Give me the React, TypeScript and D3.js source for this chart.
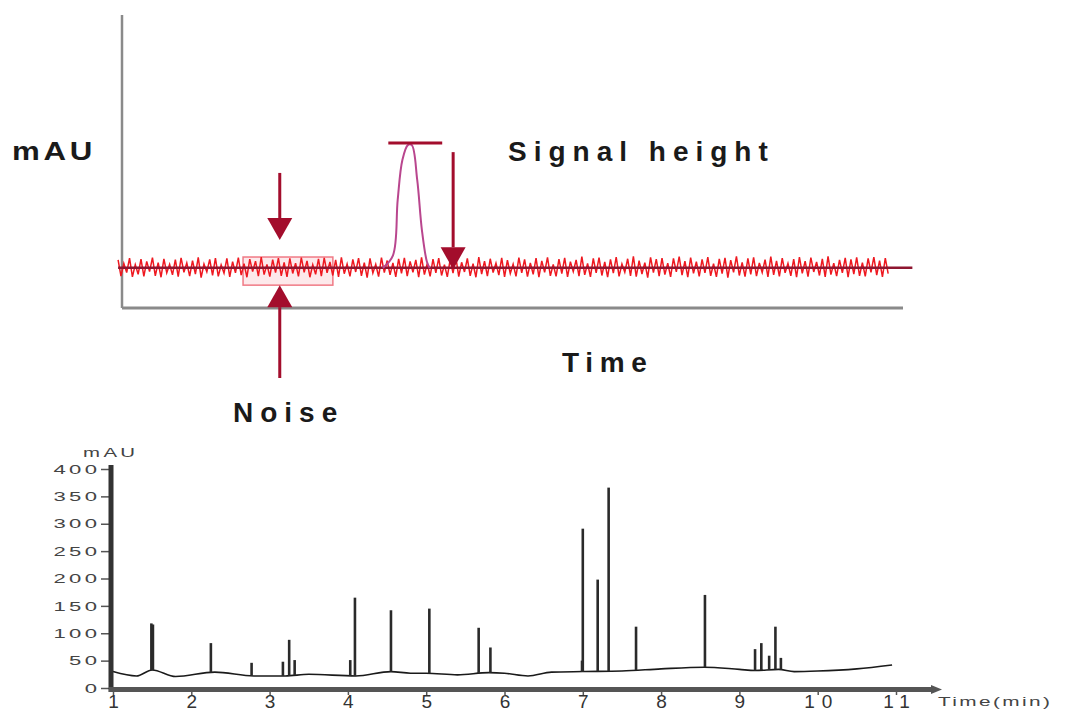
import React, { useRef, useEffect } from 'react';
import * as d3 from 'd3';

// top schematic: noise trace (arbitrary units)
const noiseLevels = [
  16.4, 10.9, 15.2, 12.1, 17.0, 10.6, 14.8, 11.5, 16.7, 10.8, 15.9, 12.4, 17.2, 11.0, 15.5, 10.5, 16.8, 12.0, 14.9, 11.3,
  16.5, 10.7, 17.1, 12.2, 15.4, 10.9, 16.2, 11.6, 17.3, 10.4, 15.0, 12.3, 16.6, 11.1, 17.0, 10.8, 14.7, 11.9, 16.9, 10.6,
  15.8, 12.0, 17.2, 11.2, 15.1, 10.5, 16.7, 12.4, 16.0, 10.9, 17.4, 11.4, 14.9, 10.7, 16.5, 12.1, 17.0, 11.0, 15.6, 10.6,
  16.9, 11.8, 15.3, 10.8, 17.2, 12.2, 16.1, 10.5, 14.8, 11.5, 16.8, 10.9, 17.1, 12.0, 15.7, 11.1, 16.4, 10.6, 17.3, 11.7,
  15.0, 10.8, 16.6, 12.3, 17.0, 11.0, 15.5, 10.4, 16.9, 11.9, 14.9, 10.7, 17.2, 12.1, 16.2, 11.3, 15.4, 10.6, 16.8, 11.8,
  17.1, 10.9, 15.9, 12.2, 16.4, 10.5, 17.3, 11.4, 15.2, 10.8, 16.7, 12.0, 17.0, 11.1, 14.8, 10.6, 16.5, 11.9, 17.2, 10.7,
  15.6, 12.3, 16.9, 11.0, 15.1, 10.5, 17.4, 11.6, 16.0, 10.9, 16.8, 12.1, 15.3, 11.2, 17.1, 10.6, 16.3, 11.8, 15.0, 10.8,
  17.2, 12.0, 16.6, 10.7, 15.4, 11.5, 17.0, 10.5, 16.1, 12.2, 17.3, 11.0, 14.9, 10.8, 16.7, 11.7, 17.1, 10.6, 15.8, 12.4,
  16.4, 10.9, 17.5, 11.3, 15.2, 10.6, 16.9, 12.0, 17.2, 11.1, 15.7, 10.5, 16.6, 11.9, 17.4, 10.8, 15.0, 12.2, 16.8, 11.0,
  17.6, 10.7, 16.2, 11.6, 15.5, 10.4, 17.3, 12.1, 16.7, 10.9, 17.0, 11.4, 15.3, 10.6, 16.9, 12.3, 17.5, 11.2, 16.0, 10.5,
  17.2, 11.8, 15.8, 10.8, 16.6, 12.0, 17.4, 11.0, 15.1, 10.6, 16.8, 11.7, 17.1, 10.4, 16.3, 12.2, 17.6, 11.1, 15.6, 10.7,
  16.9, 11.5, 17.3, 10.9, 15.4, 12.1, 16.5, 10.6, 17.5, 11.3, 16.1, 10.8, 17.0, 12.0, 15.2, 11.0, 16.7, 10.5, 17.4, 11.8,
  16.0, 10.7, 17.2, 12.3, 15.7, 11.1, 16.8, 10.6, 17.6, 11.4, 15.3, 10.9, 16.4, 12.0, 17.1, 10.5, 16.6, 11.6, 17.3, 11.0,
  15.5, 10.8, 16.9, 12.2, 17.4, 11.2, 16.2, 10.6, 17.0, 11.7,
];
const noiseBaseline = 13.7;
const signalPeakTimes = [33.4, 34.7, 35.3, 35.9, 36.6, 37.1, 37.8, 38.4, 39.05, 39.4];
const signalPeakValues = [13.7, 18.0, 36.9, 50.5, 55.6, 55.6, 43.7, 26.6, 15.7, 13.7];

// bottom chromatogram
const baseTimes = [1.0, 1.3, 1.5, 1.8, 2.3, 2.8, 3.2, 3.5, 4.1, 4.55, 4.8, 5.0, 5.4, 5.8, 6.0, 6.3, 6.6, 7.0, 7.5, 8.0, 8.55, 9.0, 9.2, 9.5, 9.7, 10.0, 10.5, 10.95];
const baseValues = [30, 22, 33, 21, 29, 22, 22, 25, 22, 30, 27, 27, 24, 28, 27, 22, 29, 30, 31, 35, 38, 34, 32, 34, 30, 31, 35, 42];
const peakTimes = [1.49, 1.51, 2.25, 2.77, 3.17, 3.25, 3.32, 4.03, 4.09, 4.55, 5.04, 5.67, 5.82, 6.99, 7.0, 7.19, 7.33, 7.68, 8.56, 9.2, 9.28, 9.38, 9.46, 9.53];
const peakHeights = [118, 116, 82, 46, 48, 88, 51, 51, 165, 142, 145, 110, 74, 50, 291, 198, 366, 112, 170, 71, 82, 59, 112, 55];
const yTicks = [0, 50, 100, 150, 200, 250, 300, 350, 400];
const xTicks = [1, 2, 3, 4, 5, 6, 7, 8, 9, 10, 11];

const FONT = '"Liberation Sans", Arial, sans-serif';
const ARROW = '#a30d2c';
const STRETCH = 1.7; // the small labels are drawn wide in the original

function App() {
  const ref = useRef<SVGSVGElement>(null);

  useEffect(() => {
    const svg = d3.select(ref.current);
    svg.selectAll('*').remove();

    // ---------- top schematic ----------
    const xTop = d3.scaleLinear().domain([0, 100]).range([122, 903]);
    const yTop = d3.scaleLinear().domain([0, 100]).range([308, 15]);
    const top = svg.append('g');

    top.append('line')
      .attr('x1', xTop(0)).attr('x2', xTop(0))
      .attr('y1', yTop(100)).attr('y2', yTop(0))
      .attr('stroke', '#8a8a8a').attr('stroke-width', 2.5);
    top.append('line')
      .attr('x1', xTop(0)).attr('x2', xTop(100))
      .attr('y1', yTop(0)).attr('y2', yTop(0))
      .attr('stroke', '#8a8a8a').attr('stroke-width', 3);

    const step = 98.6 / (noiseLevels.length - 1);
    const noisePts: [number, number][] = noiseLevels.map((v, i) => [-0.5 + i * step, v]);
    const line = d3.line<[number, number]>().x(d => xTop(d[0])).y(d => yTop(d[1]));

    // noise box
    top.append('rect')
      .attr('x', xTop(15.5)).attr('y', yTop(17.4))
      .attr('width', xTop(27) - xTop(15.5)).attr('height', yTop(7.8) - yTop(17.4))
      .attr('fill', '#fbd3d8').attr('fill-opacity', 0.5)
      .attr('stroke', '#f07a85').attr('stroke-width', 1.5);

    top.append('path').datum(noisePts)
      .attr('d', line)
      .attr('fill', 'none').attr('stroke', '#ee1820').attr('stroke-width', 1.5);

    top.append('line')
      .attr('x1', xTop(-0.5)).attr('x2', xTop(101.2))
      .attr('y1', yTop(noiseBaseline)).attr('y2', yTop(noiseBaseline))
      .attr('stroke', '#8e1630').attr('stroke-width', 2.5);

    const peakPts: [number, number][] = signalPeakTimes.map((t, i) => [t, signalPeakValues[i]]);
    top.append('path').datum(peakPts)
      .attr('d', d3.line<[number, number]>().x(d => xTop(d[0])).y(d => yTop(d[1])).curve(d3.curveCatmullRom))
      .attr('fill', 'none').attr('stroke', '#b9468e').attr('stroke-width', 2);

    // signal height bar
    top.append('line')
      .attr('x1', xTop(34.1)).attr('x2', xTop(41))
      .attr('y1', yTop(56.3)).attr('y2', yTop(56.3))
      .attr('stroke', ARROW).attr('stroke-width', 3);

    const arrow = (x: number, yFrom: number, yTip: number) => {
      const px = xTop(x), p0 = yTop(yFrom), p1 = yTop(yTip);
      const dir = p1 > p0 ? 1 : -1;
      const headLen = 22, headW = 12.5;
      top.append('line')
        .attr('x1', px).attr('x2', px)
        .attr('y1', p0).attr('y2', p1 - dir * headLen)
        .attr('stroke', ARROW).attr('stroke-width', 3);
      top.append('path')
        .attr('d', `M${px - headW},${p1 - dir * headLen} L${px + headW},${p1 - dir * headLen} L${px},${p1} Z`)
        .attr('fill', ARROW);
    };
    arrow(42.4, 53.2, 13.2);
    arrow(20.2, 46.1, 23.2);
    arrow(20.2, -23.9, 7.8);

    const bigText = (txt: string, x: number, y: number, size: number, sp: number, sx = 1) =>
      svg.append('text')
        .attr('transform', `translate(${x},${y}) scale(${sx},1)`)
        .attr('font-family', FONT).attr('font-weight', 'bold')
        .attr('font-size', size).attr('letter-spacing', sp)
        .attr('fill', '#1a1a1a').text(txt);
    bigText('mAU', 12, 160, 25, 3, 1.25);
    bigText('Signal height', 508, 161, 28, 7);
    bigText('Time', 562, 372, 28, 6.7);
    bigText('Noise', 233, 422, 28, 7);

    // ---------- bottom chromatogram ----------
    const xB = d3.scaleLinear().domain([1, 11]).range([113, 896]);
    const yB = d3.scaleLinear().domain([0, 400]).range([688, 469]);
    const baseAt = d3.scaleLinear().domain(baseTimes).range(baseValues);
    const bot = svg.append('g');

    const basePts: [number, number][] = baseTimes.map((t, i) => [t, baseValues[i]]);
    bot.append('path').datum(basePts)
      .attr('d', d3.line<[number, number]>().x(d => xB(d[0])).y(d => yB(d[1])).curve(d3.curveMonotoneX))
      .attr('fill', 'none').attr('stroke', '#1a1a1a').attr('stroke-width', 1.6);

    bot.selectAll('.peak')
      .data(peakTimes.map((t, i) => ({ t, h: peakHeights[i] })))
      .enter()
      .append('line')
      .attr('class', 'peak')
      .attr('x1', d => xB(d.t)).attr('x2', d => xB(d.t))
      .attr('y1', d => yB(baseAt(d.t))).attr('y2', d => yB(d.h))
      .attr('stroke', '#2a2a2a').attr('stroke-width', 2.6);

    // y axis
    const yAxis = bot.append('g')
      .attr('transform', `translate(${xB(1) - 2},0)`)
      .call(d3.axisLeft(yB).tickValues(yTicks).tickSize(10).tickFormat(d3.format('d')));
    yAxis.select('.domain').remove();
    yAxis.selectAll('line').attr('stroke', '#555').attr('stroke-width', 1.5);
    yAxis.selectAll('text')
      .attr('x', -6.2)
      .attr('transform', `scale(${STRETCH},1)`)
      .attr('font-family', FONT).attr('font-size', 13)
      .attr('letter-spacing', 2).attr('fill', '#444');
    bot.append('rect')
      .attr('x', xB(1) - 4.5).attr('y', yB(400) - 4)
      .attr('width', 5).attr('height', yB(0) - yB(400) + 8)
      .attr('fill', '#333');

    // x axis
    const xAxis = bot.append('g')
      .attr('transform', `translate(0,${yB(0) + 2})`)
      .call(d3.axisBottom(xB).tickValues(xTicks).tickSize(5).tickFormat(d3.format('d')));
    xAxis.select('.domain').remove();
    xAxis.selectAll('line').attr('stroke', '#555').attr('stroke-width', 1.5);
    xAxis.selectAll('text')
      .attr('y', 18).attr('dy', 0).attr('x', 3.5)
      .attr('font-family', FONT).attr('font-size', 19)
      .attr('letter-spacing', 7).attr('fill', '#333');
    bot.append('rect')
      .attr('x', xB(1) - 4).attr('y', yB(0) - 1)
      .attr('width', 935 - xB(1)).attr('height', 5)
      .attr('fill', '#555');
    bot.append('path')
      .attr('d', `M931,${yB(0) - 3} L942,${yB(0) + 1.5} L931,${yB(0) + 6} Z`)
      .attr('fill', '#555');

    const smallText = (txt: string, x: number, y: number, size: number, sx: number, sp: number) =>
      svg.append('text')
        .attr('transform', `translate(${x},${y}) scale(${sx},1)`)
        .attr('font-family', FONT).attr('font-size', size)
        .attr('letter-spacing', sp).attr('fill', '#444').text(txt);
    smallText('mAU', 83, 457, 12, STRETCH, 2);
    smallText('Time(min)', 938, 706, 13, 1.6, 1.5);
  }, []);

  return (
    <div style={{ position: 'absolute', left: 0, top: 0 }}>
      <svg ref={ref} width={1067} height={713} style={{ display: 'block', background: '#fff' }}></svg>
    </div>
  );
}

export default App;
